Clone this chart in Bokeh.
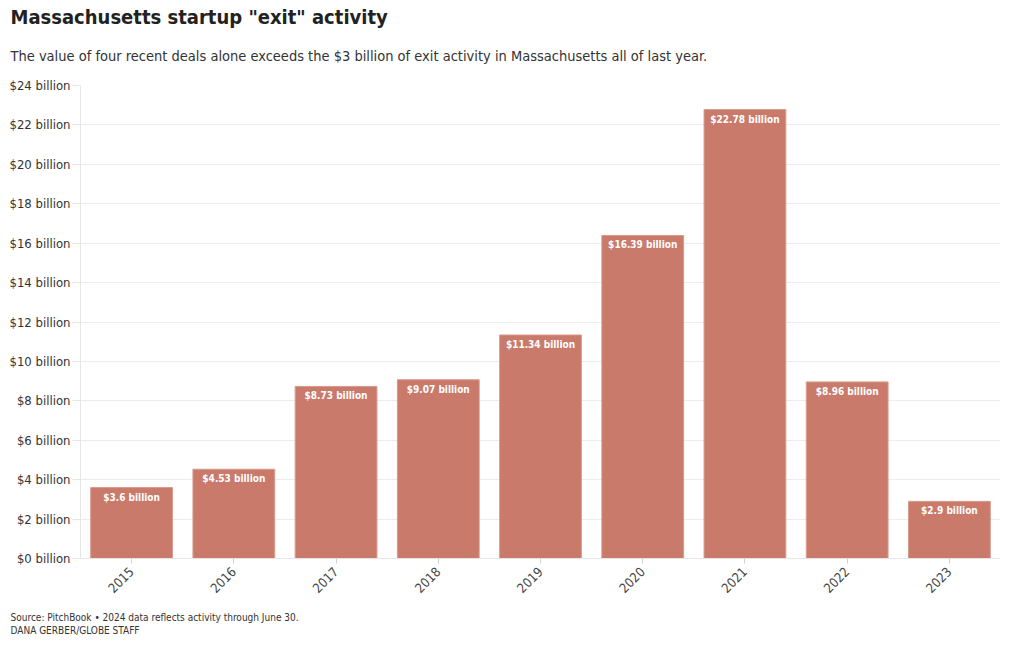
from bokeh.plotting import figure
from bokeh.models import ColumnDataSource, FixedTicker, PrintfTickFormatter, Title
from bokeh.core.properties import value
from bokeh.embed import file_html
from bokeh.resources import INLINE

years = ["2015", "2016", "2017", "2018", "2019", "2020", "2021", "2022", "2023"]
values = [3.6, 4.53, 8.73, 9.07, 11.34, 16.39, 22.78, 8.96, 2.9]
labels = ["$3.6 billion", "$4.53 billion", "$8.73 billion", "$9.07 billion", "$11.34 billion",
          "$16.39 billion", "$22.78 billion", "$8.96 billion", "$2.9 billion"]
y_ticks = [0, 2, 4, 6, 8, 10, 12, 14, 16, 18, 20, 22, 24]

FONT = "DejaVu Sans Condensed"

src = ColumnDataSource(dict(year=years, val=values, lab=labels))

p = figure(x_range=years, y_range=(0, 24), width=1010, height=647,
           output_backend="svg", toolbar_location=None,
           min_border_left=80, min_border_right=10, min_border_top=85, min_border_bottom=89)

p.vbar(x="year", top="val", width=0.8, source=src, fill_color="#c97a6a",
       line_color="#d89a8c", line_width=1)
p.text(x="year", y="val", text="lab", source=src, text_align="center", text_baseline="top",
       y_offset=4, text_color="white", text_font=value(FONT), text_font_style="bold",
       text_font_size="10px")

p.outline_line_color = None
p.background_fill_color = "white"
p.border_fill_color = "white"

p.yaxis.ticker = FixedTicker(ticks=y_ticks)
p.yaxis.formatter = PrintfTickFormatter(format="$%d billion")
p.yaxis.major_label_text_font = FONT
p.yaxis.major_label_text_font_size = "13px"
p.yaxis.major_label_text_color = "#333333"
p.yaxis.axis_line_color = "#e6e6e6"
p.yaxis.major_tick_line_color = "#e6e6e6"
p.yaxis.major_tick_out = 8
p.yaxis.major_tick_in = 0
p.yaxis.minor_tick_line_color = None
p.yaxis.major_label_standoff = 2

p.xaxis.major_label_orientation = 0.785
p.xaxis.major_label_text_font = FONT
p.xaxis.major_label_text_font_size = "13px"
p.xaxis.major_label_text_color = "#444444"
p.xaxis.axis_line_color = "#e6e6e6"
p.xaxis.major_tick_line_color = "#d0d0d0"
p.xaxis.major_tick_out = 5
p.xaxis.major_tick_in = 0
p.xaxis.major_label_standoff = 6

p.xgrid.grid_line_color = None
p.ygrid.grid_line_color = "#ececec"
p.ygrid.ticker = FixedTicker(ticks=y_ticks)

sub = Title(text="The value of four recent deals alone exceeds the $3 billion of exit activity in Massachusetts all of last year.",
            text_font=FONT, text_font_size="14.5px", text_font_style="normal",
            text_color="#333333", align="left", offset=-70, standoff=44)
main = Title(text='Massachusetts startup "exit" activity', text_font=FONT,
             text_font_size="20px", text_font_style="bold", text_color="#222222",
             align="left", offset=-70, standoff=-10)
p.add_layout(sub, "above")
p.add_layout(main, "above")

credit = Title(text="Source: PitchBook \u2022 2024 data reflects activity through June 30.\nDANA GERBER/GLOBE STAFF",
               text_font=FONT, text_font_size="10px", text_font_style="normal",
               text_color="#333333", align="left", offset=-70, standoff=22,
               text_line_height=1.2)
p.add_layout(credit, "below")

open("out.html", "w").write(file_html(p, INLINE))
